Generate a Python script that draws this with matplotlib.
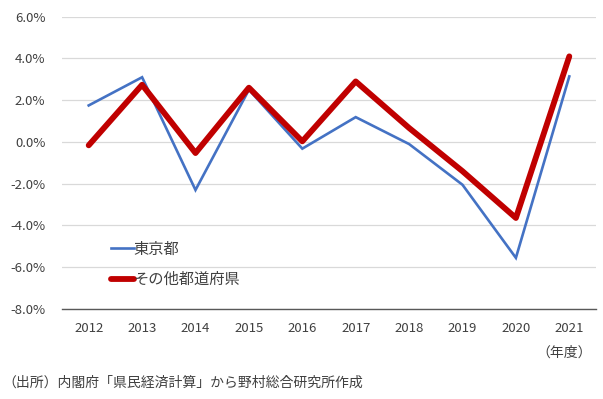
import matplotlib
matplotlib.use("Agg")
import matplotlib.pyplot as plt
from matplotlib.ticker import FuncFormatter

plt.rcParams['font.family'] = ['Noto Sans CJK JP', 'DejaVu Sans']

years = ["2012", "2013", "2014", "2015", "2016", "2017", "2018", "2019", "2020", "2021"]
tokyo = [1.75, 3.1, -2.3, 2.5, -0.32, 1.19, -0.1, -2.05, -5.55, 3.14]
others = [-0.16, 2.74, -0.53, 2.6, 0.03, 2.9, 0.67, -1.4, -3.64, 4.1]
label_tokyo = "東京都"
label_others = "その他都道府県"
yticks = [-8, -6, -4, -2, 0, 2, 4, 6]

fig = plt.figure(figsize=(6.03, 3.99), dpi=100)
ax = fig.add_axes([62/603, 1 - 309/399, 534/603, (309 - 16.7)/399])

x = list(range(len(years)))
ax.plot(x, tokyo, color="#4472C4", lw=1.9, solid_joinstyle="miter", label=label_tokyo, zorder=3)
ax.plot(x, others, color="#C00000", lw=4.2, solid_joinstyle="round", solid_capstyle="round",
        label=label_others, zorder=4)

ax.set_xlim(-0.5, len(years) - 0.5)
ax.set_ylim(-8, 6)
ax.set_yticks(yticks)
ax.yaxis.set_major_formatter(FuncFormatter(lambda v, p: f"{v:.1f}%"))
ax.set_xticks(x)
ax.set_xticklabels(years)
ax.grid(axis="y", color="#D9D9D9", lw=0.9)
ax.set_axisbelow(True)
for s in ["top", "right", "left"]:
    ax.spines[s].set_visible(False)
ax.spines["bottom"].set_color("#595959")
ax.spines["bottom"].set_linewidth(1.0)
ax.tick_params(axis="both", length=0, labelsize=9.5, colors="#404040")
ax.tick_params(axis="y", pad=12)
ax.tick_params(axis="x", pad=9)

leg = ax.legend(loc="upper left", bbox_to_anchor=(0.08, 0.255), frameon=False,
                fontsize=11, handlelength=1.5, handletextpad=0.0, labelspacing=0.88,
                borderaxespad=0)
for t in leg.get_texts():
    t.set_color("#404040")

fig.text(592/603, 1 - 353/399, "（年度）", ha="right", va="center", fontsize=10, color="#404040")
fig.text(2/603, 1 - 383/399, "（出所）内閣府「県民経済計算」から野村総合研究所作成",
         ha="left", va="center", fontsize=10, color="#404040")

fig.savefig("out.png", dpi=100)
